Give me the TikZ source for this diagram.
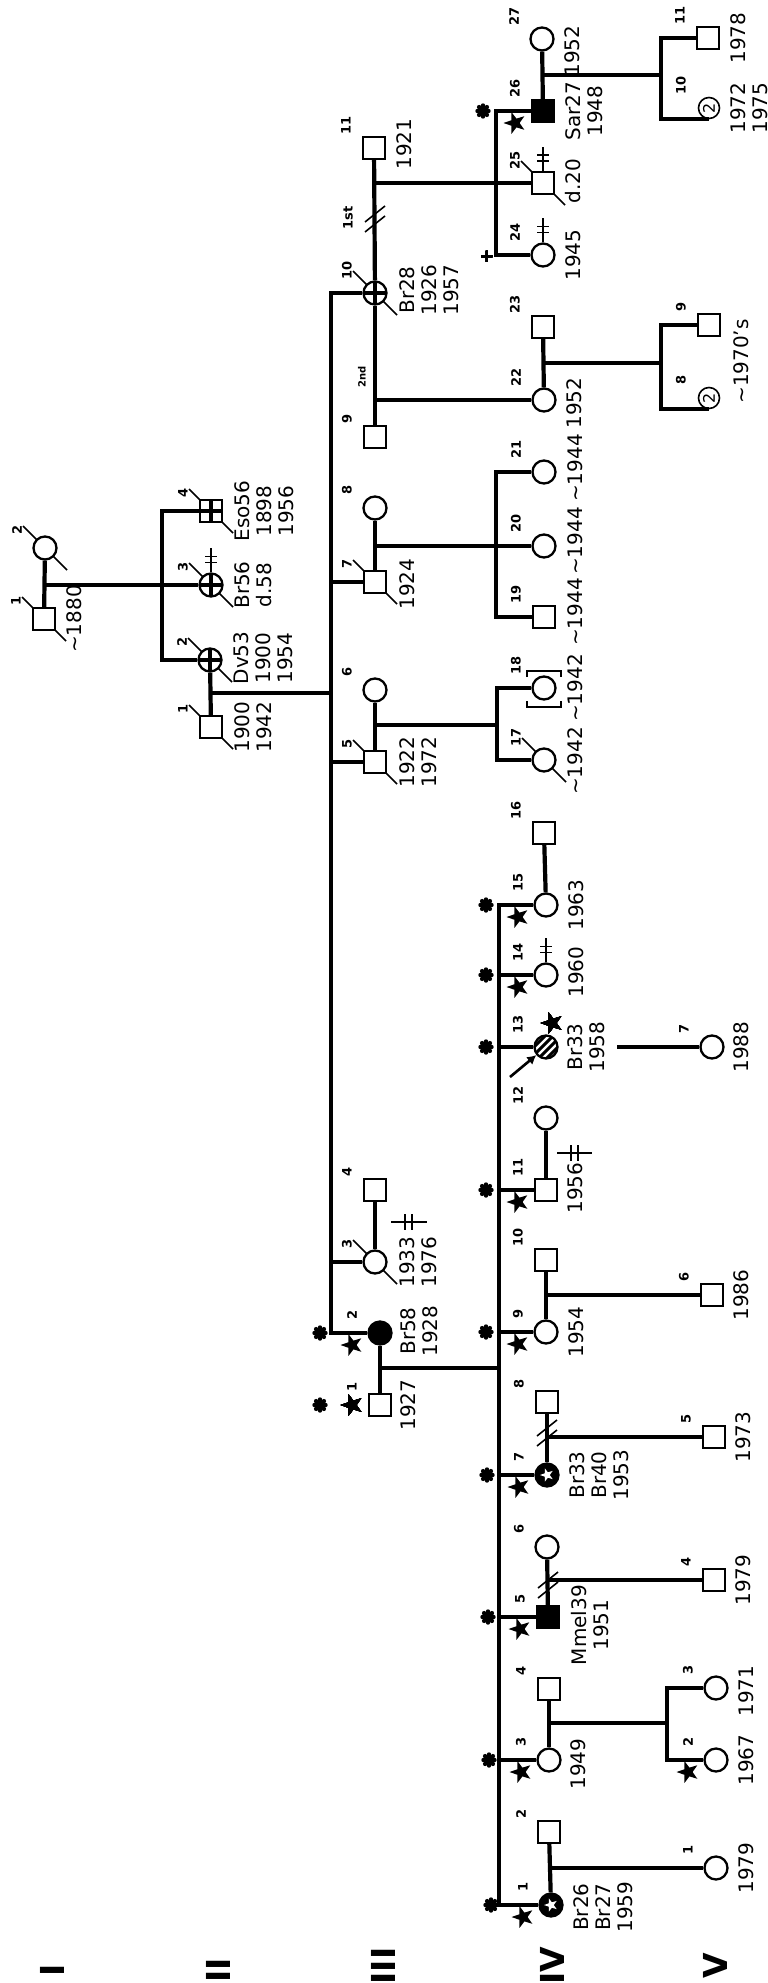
\documentclass[tikz,border=0pt]{standalone}
\usepackage{fontspec}
\setmainfont{DejaVu Sans}
\usetikzlibrary{arrows.meta,shapes.geometric,calc,backgrounds}

% black five-pointed star, centred on #1
\newcommand\blackstar[2][11.5]{%
  \fill[shift={#2}] (180:#1) -- (216:0.4*#1) -- (252:#1) -- (288:0.4*#1) -- (324:#1)
    -- (0:0.4*#1) -- (36:#1) -- (72:0.4*#1) -- (108:#1) -- (144:0.4*#1) -- cycle;}

\begin{document}
\begin{tikzpicture}[x=1pt,y=-1pt,
  male/.style={draw,line width=2.3pt,fill=white,minimum size=22pt,inner sep=0pt},
  female/.style={circle,draw,line width=2.3pt,fill=white,minimum size=23pt,inner sep=0pt},
  crossed/.style={path picture={\draw[line width=3.8pt]
      (path picture bounding box.north) -- (path picture bounding box.south)
      (path picture bounding box.west) -- (path picture bounding box.east);}},
  ringstar/.style={fill=black,path picture={\fill[white,shift={(path picture bounding box.center)}]
      (180:7) -- (216:2.8) -- (252:7) -- (288:2.8) -- (324:7) -- (0:2.8) -- (36:7) -- (72:2.8)
      -- (108:7) -- (144:2.8) -- cycle;}},
  hatched/.style={path picture={\foreach \k in {-12,-4,4,12}
      \draw[line width=3pt] ($(path picture bounding box.center)+(\k-15,15)$) -- ++(30,-30);}},
  link/.style={line width=4.2pt},
  fine/.style={line width=1.6pt},
  lbl/.style={font=\bfseries\fontsize{13}{13}\selectfont,rotate=90,inner sep=0pt,anchor=west},
  yr/.style={font=\fontsize{20}{22}\selectfont,rotate=90,inner sep=0pt,align=center,anchor=north},
  gen/.style={font=\bfseries\fontsize{33}{33}\selectfont,rotate=90,inner sep=0pt},
  burst/.style={circle,fill=black,minimum size=11pt,inner sep=0pt}]
  \useasboundingbox (0,0) rectangle (768,1983);

  % generation I
  \node[male]   (I1) at (44,619) {};
  \node[female] (I2) at (45,548) {};
  % generation II
  \node[male,crossed]   (II4) at (211,511) {};
  \node[female,crossed] (II3) at (211,585) {};
  \node[female,crossed] (II2) at (210,660) {};
  \node[male]           (II1) at (211,727) {};
  % generation III
  \node[male]           (III11) at (374,148) {};
  \node[female,crossed] (III10) at (375,293) {};
  \node[male]           (III9) at (375,437) {};
  \node[female]         (III8) at (375,508) {};
  \node[male]           (III7) at (375,582) {};
  \node[female]         (III6) at (375,690) {};
  \node[male]           (III5) at (375,762) {};
  \node[male]           (III4) at (375,1190) {};
  \node[female]         (III3) at (375,1262) {};
  \node[female,fill=black] (III2) at (380,1333) {};
  \node[male]           (III1) at (380,1405) {};
  % generation IV
  \node[female]         (IV27) at (542,39) {};
  \node[male,fill=black] (IV26) at (543,111) {};
  \node[male]           (IV25) at (543,183) {};
  \node[female]         (IV24) at (543,255) {};
  \node[male]           (IV23) at (543,327) {};
  \node[female]         (IV22) at (544,400) {};
  \node[female]         (IV21) at (544,472) {};
  \node[female]         (IV20) at (544,546) {};
  \node[male]           (IV19) at (544,617) {};
  \node[female]         (IV18) at (544,688) {};
  \node[female]         (IV17) at (544,760) {};
  \node[male]           (IV16) at (544,833) {};
  \node[female]         (IV15) at (546,905) {};
  \node[female]         (IV14) at (546,975) {};
  \node[female,hatched] (IV13) at (546,1047) {};
  \node[female]         (IV12) at (546,1118) {};
  \node[male]           (IV11) at (546,1190) {};
  \node[male]           (IV10) at (546,1260) {};
  \node[female]         (IV9) at (546,1332) {};
  \node[male]           (IV8) at (547,1402) {};
  \node[female,ringstar] (IV7) at (547,1475) {};
  \node[female]         (IV6) at (547,1547) {};
  \node[male,fill=black] (IV5) at (548,1617) {};
  \node[male]           (IV4) at (549,1689) {};
  \node[female]         (IV3) at (549,1760) {};
  \node[male]           (IV2) at (549,1832) {};
  \node[female,ringstar] (IV1) at (551,1905) {};
  % generation V
  \node[male]   (V11) at (708,38) {};
  \node[female,line width=1.6pt,minimum size=21pt,rotate=90,font=\fontsize{16}{16}\selectfont] (V10) at (709,108) {2};
  \node[male]   (V9) at (709,325) {};
  \node[female,line width=1.6pt,minimum size=21pt,rotate=90,font=\fontsize{16}{16}\selectfont] (V8) at (709,398) {2};
  \node[female] (V7) at (712,1047) {};
  \node[male]   (V6) at (712,1295) {};
  \node[male]   (V5) at (714,1437) {};
  \node[male]   (V4) at (714,1580) {};
  \node[female] (V3) at (716,1688) {};
  \node[female] (V2) at (716,1760) {};
  \node[female] (V1) at (716,1868) {};

  % sibship junctions
  \coordinate (mI) at (45,585);
  \coordinate (jII) at (162,585);
  \coordinate (mII) at (210,693);
  \coordinate (jIII) at (331,693);
  \coordinate (m10) at (375,183);
  \coordinate (j10) at (496,183);
  \coordinate (m9) at (375,400);
  \coordinate (m7) at (375,546);
  \coordinate (j7) at (496,546);
  \coordinate (m5) at (375,725);
  \coordinate (j5) at (497,725);
  \coordinate (m1) at (380,1368);
  \coordinate (j1) at (499,1368);
  \coordinate (m26) at (543,75);
  \coordinate (j26) at (661,75);
  \coordinate (m22) at (544,363);
  \coordinate (j22) at (661,363);
  \coordinate (m3) at (549,1723);
  \coordinate (j3) at (667,1723);

  % couples
  \foreach \a/\b in {I1/I2,II2/II1,III11/III10,III10/III9,III8/III7,III6/III5,III4/III3,III2/III1,
      IV27/IV26,IV23/IV22,IV16/IV15,IV12/IV11,IV10/IV9,IV8/IV7,IV6/IV5,IV4/IV3,IV2/IV1}
    \draw[link] (\a) -- (\b);
  % descent lines
  \draw[link] (mI) -- (II3);
  \draw[link] (II4.west) -| (jII) |- (II2.west);
  \draw[link] (mII) -- (jIII);
  \draw[link] (III10.west) -| (jIII) |- (III2.west);
  \foreach \p in {III7,III5,III3}
    \draw[link] (\p.west) -- (\p.west -| jIII);
  \draw[link] (m10) -- (IV25);
  \draw[link] (IV26.west) -| (j10) |- (IV24.west);
  \draw[link] (m9) -- (IV22);
  \draw[link] (m7) -- (IV20);
  \draw[link] (IV21.west) -| (j7) |- (IV19.west);
  \draw[link] (m5) -- (j5);
  \draw[link] (IV18.west) -| (j5) |- (IV17.west);
  \draw[link] (m1) -- (j1);
  \draw[link] (IV15.west) -| (j1) |- (IV1.west);
  \foreach \p in {IV14,IV13,IV11,IV9,IV7,IV5,IV3}
    \draw[link] (\p.west) -- (\p.west -| j1);
  \draw[link] (m26) -- (j26);
  \draw[link] (V11.west) -| (j26) |- (V10.west);
  \draw[link] (m22) -- (j22);
  \draw[link] (V9.west) -| (j22) |- (V8.west);
  \draw[link,line width=3.4pt] ($(IV13)+(71,0)$) -- (V7);
  \draw[link] (IV10.south |- V6) -- (V6);
  \draw[link] (IV8.south |- V5) -- (V5);
  \draw[link] (IV6.south |- V4) -- (V4);
  \draw[link] (m3) -- (j3);
  \draw[link] (V3.west) -| (j3) |- (V2.west);
  \draw[link] (IV2.south |- V1) -- (V1);

  % deceased
  \begin{scope}[on background layer]
    \fill[white] (0,0) rectangle (768,1983);
    \foreach \p in {I1,I2,II1,II2,II3,II4,III3,III5,III7,III10,IV17,IV25}
      \draw[fine] ($(\p)+(-22,-22)$) -- ($(\p)+(22,22)$);
  \end{scope}

  % divorce marks
  \foreach \c in {(375,219),(547,1433),(548,1585)}
    \foreach \s in {-5,5}
      \draw[fine] \c ++(-10,\s+8) -- ++(20,-16);

  % examined marks
  \foreach \p in {II3,IV25,IV24,IV14}
    \draw[fine] (\p.north) -- ++(0,-24) ++(-6,8) -- ++(12,0) ++(-12,6) -- ++(12,0);
  \draw[fine] (391,1222) -- (427,1222) (405,1214) -- (405,1230) (412,1214) -- (412,1230);
  \draw[fine] (557,1153) -- (592,1153) (571,1145) -- (571,1161) (578,1145) -- (578,1161);

  % adopted brackets
  \draw[fine] ($(IV18)+(-17,-11)$) -- ++(0,-6) -- ++(34,0) -- ++(0,6);
  \draw[fine] ($(IV18)+(-17,13)$) -- ++(0,6) -- ++(34,0) -- ++(0,-6);

  % carriers and affected
  \foreach \p in {III2,III1,IV26,IV15,IV14,IV13,IV11,IV9,IV7,IV5,IV3,IV1} {
    \node[burst] (b\p) at ($(\p)+(-60,0)$) {};
    \foreach \a in {0,45,...,315}
      \fill (b\p.center) ++(\a:5.5) circle (2.2);
  }
  \foreach \p in {III2,IV26,IV15,IV14,IV11,IV9,IV7,IV5,IV3,IV1,V2}
    \blackstar{($(\p)+(-28,12)$)}
  \blackstar{($(III1)+(-28,0)$)}
  \blackstar{($(IV13)+(6,-24)$)}
  \node[font=\bfseries\fontsize{18}{18}\selectfont,inner sep=0pt] (plus) at ($(IV24)+(-56,2)$) {+};
  \draw[-{Latex[length=9pt,width=10pt]},line width=2.6pt] ($(IV13)+(-36,30)$) -- (IV13);

  % numbers
  \foreach \p/\t in {I1/1,I2/2,II1/1,II2/2,II3/3,II4/4,
      III1/1,III2/2,III3/3,III4/4,III5/5,III6/6,III7/7,III8/8,III9/9,III10/10,III11/11,
      IV1/1,IV2/2,IV3/3,IV4/4,IV5/5,IV6/6,IV7/7,IV8/8,IV9/9,IV10/10,IV11/11,IV12/12,IV13/13,
      IV14/14,IV15/15,IV16/16,IV17/17,IV18/18,IV19/19,IV20/20,IV21/21,IV22/22,IV23/23,
      IV24/24,IV25/25,IV26/26,IV27/27,
      V1/1,V2/2,V3/3,V4/4,V5/5,V6/6,V7/7,V8/8,V9/9,V10/10,V11/11}
    \node[lbl] (n\p) at ($(\p)+(-28,-13)$) {\t};
  \node[lbl,anchor=center] (first) at (348,218) {1st};
  \node[lbl,anchor=center,font=\bfseries\fontsize{10}{10}\selectfont] (second) at (362,377) {2nd};

  % dates and mutations
  \node[yr] (tI1) at ($(I1)+(22,0)$) {\textasciitilde1880};
  \node[yr] (tII4) at ($(II4)+(23,0)$) {Eso56\\1898\\1956};
  \node[yr] (tII3) at ($(II3)+(23,0)$) {Br56\\d.58};
  \node[yr] (tII2) at ($(II2)+(23,-2)$) {Dv53\\1900\\1954};
  \node[yr] (tII1) at ($(II1)+(23,0)$) {1900\\1942};
  \node[yr] (tIII11) at ($(III11)+(22,-4)$) {1921};
  \node[yr] (tIII10) at ($(III10)+(24,-3)$) {Br28\\1926\\1957};
  \node[yr] (tIII7) at ($(III7)+(24,2)$) {1924};
  \node[yr] (tIII5) at ($(III5)+(24,0)$) {1922\\1972};
  \node[yr] (tIII3) at ($(III3)+(24,0)$) {1933\\1976};
  \node[yr] (tIII2) at ($(III2)+(20,-2)$) {Br58\\1928};
  \node[yr] (tIII1) at ($(III1)+(20,0)$) {1927};
  \node[yr] (tIV27) at ($(IV27)+(22,12)$) {1952};
  \node[yr] (tIV26) at ($(IV26)+(22,0)$) {Sar27\\1948};
  \node[yr] (tIV25) at ($(IV25)+(22,-2)$) {d.20};
  \node[yr] (tIV24) at ($(IV24)+(22,0)$) {1945};
  \node[yr] (tIV22) at ($(IV22)+(22,3)$) {1952};
  \node[yr] (tIV21) at ($(IV21)+(23,-4)$) {\textasciitilde1944};
  \node[yr] (tIV20) at ($(IV20)+(23,-5)$) {\textasciitilde1944};
  \node[yr] (tIV19) at ($(IV19)+(23,-5)$) {\textasciitilde1944};
  \node[yr] (tIV18) at ($(IV18)+(23,0)$) {\textasciitilde1942};
  \node[yr] (tIV17) at ($(IV17)+(23,1)$) {\textasciitilde1942};
  \node[yr] (tIV15) at ($(IV15)+(22,0)$) {1963};
  \node[yr] (tIV14) at ($(IV14)+(22,-3)$) {1960};
  \node[yr] (tIV13) at ($(IV13)+(21,0)$) {Br33\\1958};
  \node[yr] (tIV11) at ($(IV11)+(21,-2)$) {1956};
  \node[yr] (tIV9) at ($(IV9)+(22,0)$) {1954};
  \node[yr] (tIV7) at ($(IV7)+(22,0)$) {Br33\\Br40\\1953};
  \node[yr] (tIV5) at ($(IV5)+(23,8)$) {Mmel39\\1951};
  \node[yr] (tIV3) at ($(IV3)+(21,4)$) {1949};
  \node[yr] (tIV1) at ($(IV1)+(22,2)$) {Br26\\Br27\\1959};
  \node[yr] (tV11) at ($(V11)+(22,0)$) {1978};
  \node[yr] (tV10) at ($(V10)+(21,0)$) {1972\\1975};
  \node[yr] (tV9) at ($(V9)!.5!(V8)+(24,0)$) {\textasciitilde1970's};
  \node[yr] (tV7) at ($(V7)+(21,0)$) {1988};
  \node[yr] (tV6) at ($(V6)+(21,0)$) {1986};
  \node[yr] (tV5) at ($(V5)+(21,0)$) {1973};
  \node[yr] (tV4) at ($(V4)+(21,0)$) {1979};
  \node[yr] (tV3) at ($(V3)+(22,3)$) {1971};
  \node[yr] (tV2) at ($(V2)+(22,0)$) {1967};
  \node[yr] (tV1) at ($(V1)+(22,0)$) {1979};

  % generations
  \node[gen] (gI) at (52,1970) {I};
  \node[gen] (gII) at (218,1970) {II};
  \node[gen] (gIII) at (383,1966) {III};
  \node[gen] (gIV) at (552,1966) {IV};
  \node[gen] (gV) at (715,1966) {V};
\end{tikzpicture}
\end{document}
